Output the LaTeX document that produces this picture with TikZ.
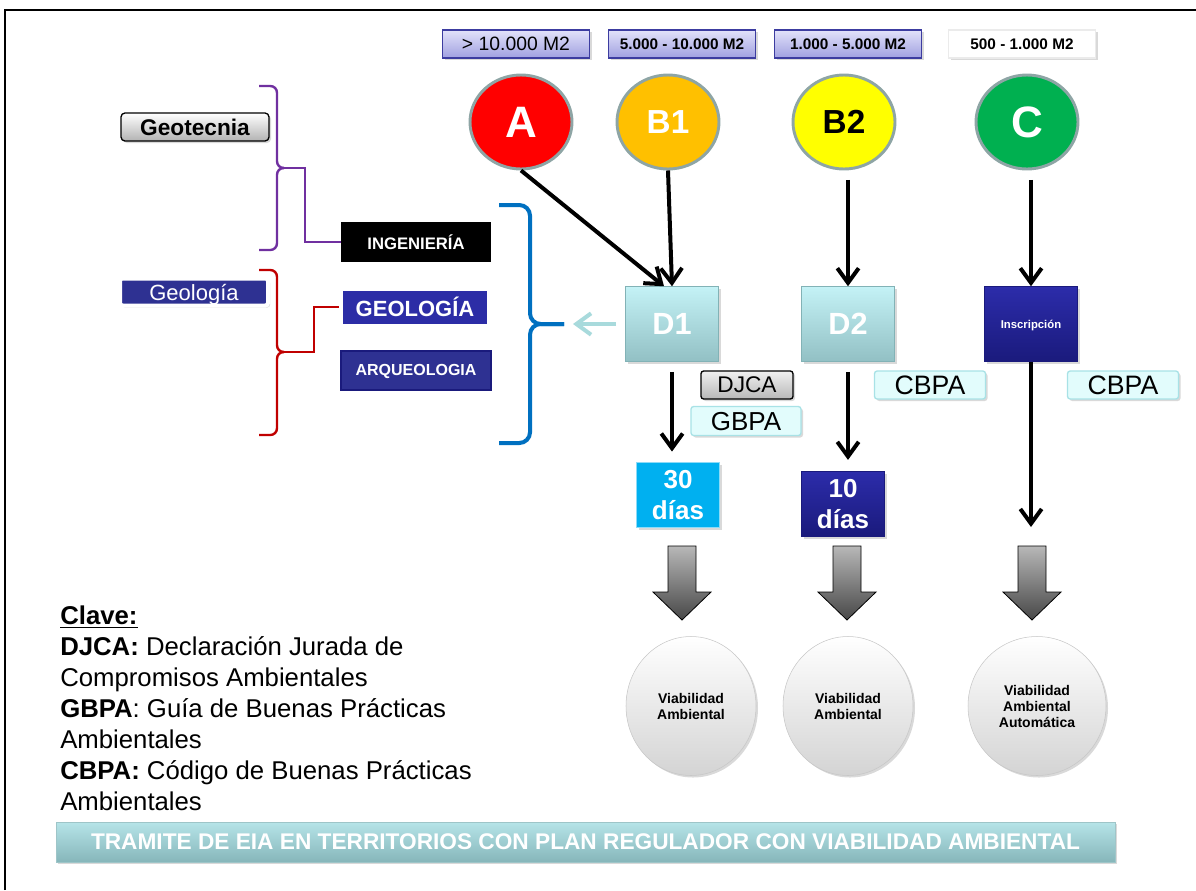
\documentclass[tikz,border=0pt]{standalone}
\usepackage{fontspec}
\setmainfont{Liberation Sans}
\usetikzlibrary{shapes.geometric,arrows.meta,shadows,positioning}
\definecolor{ringgray}{RGB}{142,165,165}
\definecolor{zoneA}{RGB}{255,0,0}
\definecolor{zoneB1}{RGB}{255,192,0}
\definecolor{zoneB2}{RGB}{255,255,0}
\definecolor{zoneC}{RGB}{0,176,80}
\definecolor{sizeline}{RGB}{60,60,160}
\definecolor{sizetop}{RGB}{226,226,250}
\definecolor{sizebot}{RGB}{160,160,224}
\definecolor{dtop}{RGB}{196,242,246}
\definecolor{dbot}{RGB}{146,192,196}
\definecolor{dline}{RGB}{130,178,182}
\definecolor{navy}{RGB}{46,49,146}
\definecolor{navytop}{RGB}{44,44,170}
\definecolor{navybot}{RGB}{26,26,124}
\definecolor{tagfill}{RGB}{226,252,252}
\definecolor{tagline}{RGB}{168,226,230}
\definecolor{skyblue}{RGB}{0,176,240}
\definecolor{bracepurple}{RGB}{112,48,160}
\definecolor{bracered}{RGB}{192,0,0}
\definecolor{braceblue}{RGB}{0,112,192}
\definecolor{palecyan}{RGB}{168,218,220}
\definecolor{bantop}{RGB}{182,228,232}
\definecolor{banbot}{RGB}{134,182,186}

\begin{document}
\begin{tikzpicture}[x=0.75pt,y=-0.75pt,
  shad/.style={drop shadow={opacity=0.3,shadow xshift=1.5pt,shadow yshift=-1.5pt}},
  mid/.style={text depth=0pt},
  sizebox/.style={draw=sizeline, line width=1.2pt, top color=sizetop, bottom color=sizebot,
    minimum width=110.25pt, minimum height=21pt, inner sep=0pt, shad, mid,
    font=\bfseries\fontsize{11.5}{13}\selectfont},
  zone/.style={ellipse, draw=ringgray, line width=2.2pt, minimum width=76.5pt,
    minimum height=70.5pt, inner sep=0pt, mid, font=\bfseries\fontsize{25}{28}\selectfont},
  dbox/.style={draw=dline, top color=dtop, bottom color=dbot, minimum width=69.75pt,
    minimum height=56.25pt, inner sep=0pt, text=white, shad, mid,
    font=\bfseries\fontsize{23}{26}\selectfont},
  tag/.style={draw=tagline, line width=1pt, fill=tagfill, rounded corners=2pt,
    minimum width=83.25pt, minimum height=21pt, inner sep=0pt, shad, mid,
    font=\fontsize{20}{22}\selectfont},
  dias/.style={minimum width=62.25pt, minimum height=48.75pt, inner sep=0pt, align=center,
    text=white, shad, font=\bfseries\fontsize{19.5}{23}\selectfont},
  viab/.style={ellipse, draw=black!22, top color=white, bottom color=black!17,
    minimum width=97.5pt, minimum height=104.25pt, inner sep=0pt, align=center, shad,
    font=\bfseries\fontsize{10.5}{12}\selectfont},
  arr/.style={line width=3pt, -{Straight Barb[length=11pt,width=16pt]}},
  blockarr/.style={draw=black, line width=0.6pt, top color=black!28, bottom color=black!72},
  bracket/.style={line width=1.8pt, rounded corners=5pt}]
\useasboundingbox (0,0) rectangle (1196,890);
\draw[line width=1.6pt] (5,890) -- (5,10) -- (1196,10);

% superficies
\node[sizebox, font=\fontsize{14.5}{16}\selectfont] (m1) at (516,44) {> 10.000 M2};
\node[sizebox] (m2) at (682,44) {5.000 - 10.000 M2};
\node[sizebox] (m3) at (848,44) {1.000 - 5.000 M2};
\node[sizebox, draw=black!8, top color=white, bottom color=white] (m4) at (1022,44) {500 - 1.000 M2};

% zonas
\node[zone, fill=zoneA, text=white, font=\bfseries\fontsize{33}{36}\selectfont] (A) at (521,122) {A};
\node[zone, fill=zoneB1, text=white] (B1) at (668,122) {B1};
\node[zone, fill=zoneB2, text=black] (B2) at (844,122) {B2};
\node[zone, fill=zoneC, text=white, font=\bfseries\fontsize{33}{36}\selectfont] (C) at (1027,122) {C};

% tramites
\node[dbox] (D1) at (672,324) {D1};
\node[dbox] (D2) at (848,324) {D2};
\node[dbox, draw=navybot, top color=navytop, bottom color=navybot,
  font=\bfseries\fontsize{8.5}{10}\selectfont] (insc) at (1031,324) {Inscripción};

\node[tag, draw=black, top color=white!94!black, bottom color=black!28,
  minimum width=69pt, font=\fontsize{17}{19}\selectfont] (djca) at (747,385) {DJCA};
\node[tag, minimum width=82.5pt, minimum height=21.75pt,
  font=\fontsize{19.5}{21}\selectfont] (gbpa) at (746,421) {GBPA};
\node[tag] (cbpa1) at (930,385) {CBPA};
\node[tag] (cbpa2) at (1123,385) {CBPA};

\node[dias, fill=skyblue, draw=skyblue!45] (dias30) at (678,495) {30\\días};
\node[dias, draw=navybot, top color=navytop, bottom color=navybot] (dias10) at (843,504) {10\\días};
\coordinate (inscEnd) at (1031,527);

\draw[arr] (A.south) -- ([xshift=-6pt]D1.north);
\draw[arr] (B1.south) -- (D1.north);
\draw[arr, shorten <=7pt] (B2.south -| D2.north) -- (D2.north);
\draw[arr, shorten <=7pt] (C.south -| insc.north) -- (insc.north);
\draw[arr, shorten <=7.5pt, shorten >=8pt] (D1.south) -- (D1.south |- dias30.north);
\draw[arr, shorten <=7.5pt, shorten >=8.5pt] (D2.south) -- (D2.south |- dias10.north);
\draw[arr] (insc.south) -- (inscEnd);

% resultado
\foreach \x in {682,847,1032}
  \draw[blockarr] (\x-14,546) -- (\x+14,546) -- (\x+14,592) -- (\x+29,592) -- (\x,620)
    -- (\x-29,592) -- (\x-14,592) -- cycle;
\node[viab] (va1) at (691,706) {Viabilidad\\Ambiental};
\node[viab] (va2) at (848,706) {Viabilidad\\Ambiental};
\node[viab, minimum width=103.5pt] (va3) at (1037,706) {Viabilidad\\Ambiental\\Automática};

% estudios
\node[draw=black, line width=1pt, rounded corners=3pt, top color=white, bottom color=black!30,
  minimum width=111pt, minimum height=21pt, inner sep=0pt, shad, mid,
  font=\bfseries\fontsize{17}{19}\selectfont] (geot) at (195,127) {Geotecnia};
\node[fill=black, text=white, minimum width=112.5pt, minimum height=30pt, inner sep=0pt, mid,
  font=\bfseries\fontsize{12.5}{14}\selectfont] (ing) at (416,242) {INGENIERÍA};
\node[fill=navy, draw=white, line width=3pt, rounded corners=2pt, text=white,
  minimum width=111pt, minimum height=20.25pt, inner sep=0pt, shad, mid,
  font=\fontsize{16.5}{18}\selectfont] (geol) at (194,292) {Geología};
\node[fill=navytop!85!navy, draw=white, line width=3pt, text=white,
  minimum width=111pt, minimum height=27.75pt, inner sep=0pt, shad, mid,
  font=\bfseries\fontsize{16.5}{18}\selectfont] (geo) at (415,307) {GEOLOGÍA};
\node[fill=navy, draw=navybot, line width=1.5pt, text=white,
  minimum width=112.5pt, minimum height=29.25pt, inner sep=0pt, mid,
  font=\bfseries\fontsize{12}{14}\selectfont] (arq) at (416,370) {ARQUEOLOGIA};

\coordinate (pcusp) at (284,168);
\coordinate (rcusp) at (284,352);
\coordinate (bcusp) at (564,324);
\draw[bracket, bracepurple] (259,86) -| (277,168) -- (pcusp);
\draw[bracket, bracepurple] (259,250) -| (277,168) -- (pcusp);
\draw[bracepurple, line width=1.8pt] (pcusp) -- ++(21,0) |- (ing.west);
\draw[bracket, bracered] (259,270) -| (277,352) -- (rcusp);
\draw[bracket, bracered] (259,435) -| (277,352) -- (rcusp);
\draw[bracered, line width=1.8pt] (rcusp) -- ++(30,0) |- (geo.west);
\draw[bracket, braceblue, line width=3pt, rounded corners=8pt] (499,205) -| (530,324) -- (bcusp);
\draw[bracket, braceblue, line width=3pt, rounded corners=8pt] (499,443) -| (530,324) -- (bcusp);
\draw[palecyan, line width=3pt, shorten <=6.75pt, shorten >=6.75pt,
  -{Straight Barb[length=11pt,width=16pt]}] (D1.west) -- (bcusp);

% clave
\node[anchor=north west, inner sep=0pt, align=left,
  font=\fontsize{19.3}{23.25}\selectfont] (clave) at (60,606) {%
  \underline{\textbf{Clave:}}\\
  \textbf{DJCA:} Declaración Jurada de\\
  Compromisos Ambientales\\
  \textbf{GBPA}: Guía de Buenas Prácticas\\
  Ambientales\\
  \textbf{CBPA:} Código de Buenas Prácticas\\
  Ambientales};

\node[draw=banbot!80, top color=bantop, bottom color=banbot, minimum width=794.25pt,
  minimum height=30pt, inner sep=0pt, text=white, shad, mid,
  font=\bfseries\fontsize{17}{19}\selectfont] (titulo) at (585.5,842)
  {TRAMITE DE EIA EN TERRITORIOS CON PLAN REGULADOR CON VIABILIDAD AMBIENTAL};
\end{tikzpicture}
\end{document}
